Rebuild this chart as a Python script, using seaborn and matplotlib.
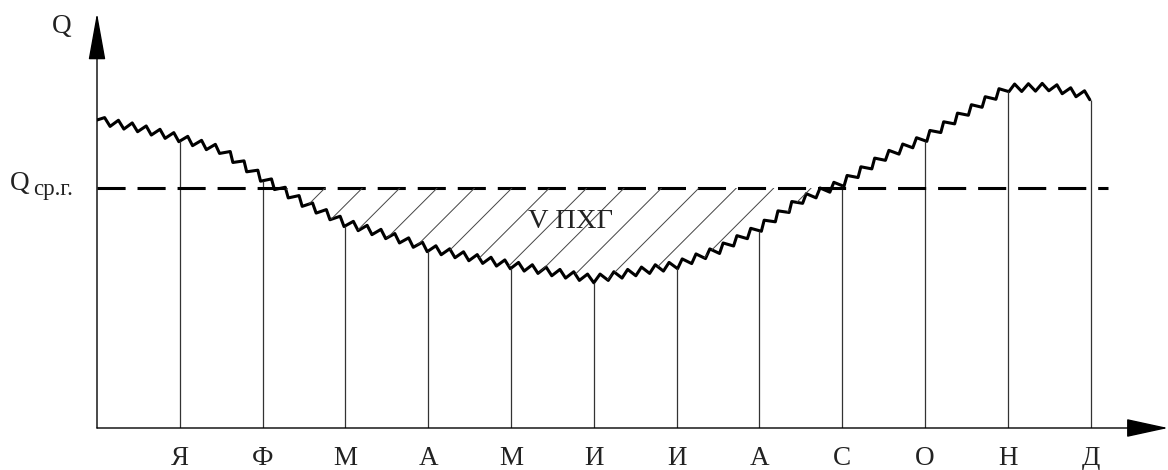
import numpy as np
import matplotlib
matplotlib.use("Agg")
import matplotlib.pyplot as plt
from matplotlib.path import Path
import seaborn as sns

# monthly flow Q, read at every half month (month index 0..12)
x_half = np.arange(0, 12.5, 0.5)
q_half = [308, 300, 290, 278, 250, 225, 205, 193, 180, 171, 163, 156, 149,
          156, 163, 178, 200, 228, 245, 271, 290, 316, 340, 341, 332]
months = ["Я", "Ф", "М", "А", "М", "И", "И", "А", "С", "О", "Н", "Д"]
month_pos = np.arange(1, 13)
q_avg = 240  # Q ср.г.

sns.set_theme(style="white")
plt.rcParams["font.family"] = ["Liberation Serif", "DejaVu Serif"]

px = 82.8  # pixels per month
fig = plt.figure(figsize=(11.68, 4.70), dpi=100)
ax = fig.add_axes([97 / 1168, 42 / 470, 1071 / 1168, 428 / 470])
ax.set_xlim(0, 1071 / px)
ax.set_ylim(0, 428)
for s in ax.spines.values():
    s.set_visible(False)

# zigzag hydrograph: teeth perpendicular to the trend, 6 per month
xv = np.arange(0, 12.0001, 1 / 12)
yv = np.interp(xv, x_half, q_half)
theta = np.arctan(np.gradient(yv, xv * px))
sign = np.where(np.arange(len(xv)) % 2 == 1, 1.0, -1.0)
sign[0] = 0
amp = 3.8
cx = xv - amp * sign * np.sin(theta) / px
cy = yv + amp * sign * np.cos(theta)
sns.lineplot(x=cx, y=cy, ax=ax, color="black", lw=2.2, sort=False)

# month verticals
q_month = np.interp(month_pos, cx, cy)
ax.vlines(month_pos, 0, q_month, colors="#333333", lw=0.9)

# mean annual flow
ax.plot([0, (1108 - 97) / px], [q_avg, q_avg], color="black", lw=2.2,
        dashes=(9.2, 3.9), dash_capstyle="butt")

# hatched deficit area (V ПХГ)
poly = ax.fill_between(cx, cy, q_avg, where=cy < q_avg, interpolate=True,
                       facecolor="none", edgecolor="none")
clip = Path.make_compound_path(*poly.get_paths())
for k in range(-1, 14):
    x0 = (325 - 97 + 37.4 * k) / px
    ln, = ax.plot([x0, x0 - 200 / px], [q_avg, q_avg - 200], color="#444444", lw=0.7)
    ln.set_clip_path(clip, ax.transData)

ax.text((571 - 97) / px, 200, "V ПХГ", ha="center", va="baseline", fontsize=20.5, color="#222")

# axes with arrows
ax.annotate("", xy=(0, 415), xytext=(0, 0), annotation_clip=False,
            arrowprops=dict(arrowstyle="-|>,head_length=3.0,head_width=0.54",
                            color="black", lw=1, mutation_scale=10, shrinkA=0, shrinkB=0))
ax.annotate("", xy=(1168 / px - 97 / px, 0), xytext=(0, 0), annotation_clip=False,
            arrowprops=dict(arrowstyle="-|>,head_length=2.66,head_width=0.58",
                            color="black", lw=1, mutation_scale=10, shrinkA=0, shrinkB=0))

ax.text((62 - 97) / px, 395, "Q", ha="center", va="baseline", fontsize=19.5, color="#222")
ax.text((10 - 97) / px, 238, "Q", ha="left", va="baseline", fontsize=19.5, color="#222")
ax.text((33 - 97) / px, 233, "ср.г.", ha="left", va="baseline", fontsize=16.5, color="#222")

ax.set_xticks(month_pos)
ax.set_xticklabels(months, fontsize=19.5, color="#222")
ax.set_yticks([])
ax.tick_params(axis="x", length=0, pad=13)
ax.grid(False)

fig.savefig("out.png", dpi=100, facecolor="white")
